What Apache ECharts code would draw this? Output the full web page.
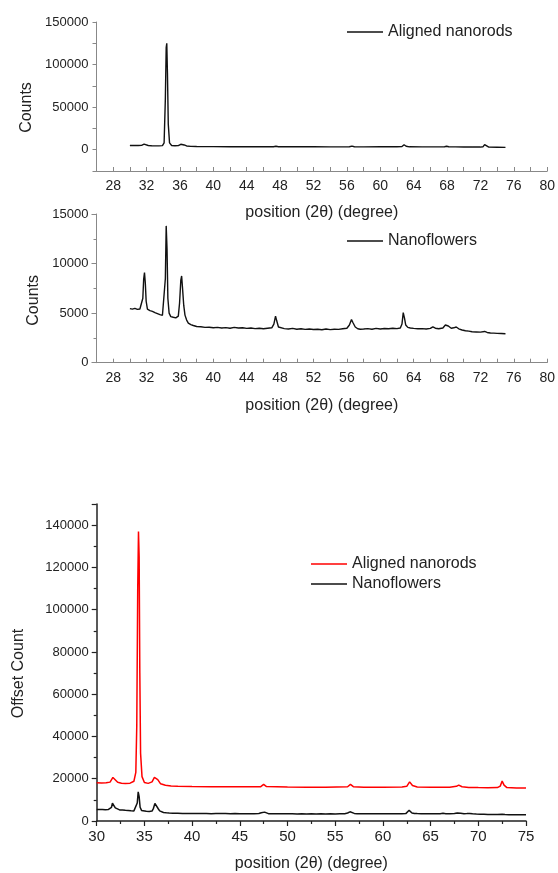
<!DOCTYPE html>
<html>
<head>
<meta charset="utf-8">
<script src="https://cdn.jsdelivr.net/npm/echarts@6/dist/echarts.min.js"></script>
<style>
  html, body { margin: 0; padding: 0; background: #fff; }
  #chart { width: 558px; height: 873px; }
</style>
</head>
<body>
<div id="chart"></div>
<script>
// [2θ, counts]
const rodsTop = [
  [30.0, 5000], [30.5, 4950], [31.0, 4900], [31.4, 5100], [31.7, 6500], [31.9, 6400],
  [32.2, 5000], [32.6, 4600], [33.0, 4500], [33.5, 4500], [33.9, 4800], [34.1, 8000],
  [34.25, 60000], [34.35, 120000], [34.42, 125000], [34.5, 90000], [34.6, 30000],
  [34.75, 8000], [35.0, 5000], [35.4, 4600], [35.8, 4800], [36.1, 6400], [36.3, 6800],
  [36.5, 5600], [36.8, 4400], [37.3, 3900], [38.0, 3700], [40.0, 3600], [42.0, 3550],
  [44.0, 3500], [46.0, 3450], [47.2, 3450], [47.5, 4000], [47.8, 3450], [50.0, 3400],
  [52.0, 3400], [54.0, 3380], [56.3, 3450], [56.6, 4200], [56.9, 3450], [58.0, 3380],
  [60.0, 3400], [62.0, 3400], [62.6, 3700], [62.85, 5800], [63.1, 4000], [63.5, 3400],
  [65.0, 3350], [67.0, 3300], [67.7, 3500], [67.95, 4100], [68.2, 3500], [69.0, 3300],
  [70.0, 3200], [71.0, 3150], [72.0, 3100], [72.3, 3400], [72.5, 6000], [72.7, 4200],
  [73.0, 3000], [74.0, 2900], [75.0, 2800]
]

const flowers = [
  [30.0, 5450], [30.3, 5400], [30.6, 5480], [30.9, 5380], [31.2, 5420], [31.4, 5500],
  [31.55, 6500], [31.65, 8400], [31.75, 9100], [31.85, 8000], [31.95, 6200], [32.1, 5400],
  [32.4, 5250], [32.7, 5180], [33.0, 5050], [33.3, 4950], [33.6, 4850], [33.9, 4780],
  [34.1, 4900], [34.25, 8500], [34.35, 13800], [34.45, 11500], [34.55, 6500], [34.7, 5000],
  [34.9, 4650], [35.2, 4580], [35.5, 4520], [35.8, 4700], [35.95, 6000], [36.1, 8300],
  [36.2, 8750], [36.3, 7600], [36.45, 5800], [36.6, 4800], [36.8, 4300], [37.0, 4000],
  [37.3, 3850], [37.6, 3750], [38.0, 3650], [38.5, 3620], [39.0, 3560], [39.5, 3580],
  [40.0, 3520], [40.5, 3560], [41.0, 3500], [41.5, 3540], [42.0, 3480], [42.5, 3560],
  [43.0, 3500], [43.5, 3520], [44.0, 3460], [44.5, 3500], [45.0, 3440], [45.5, 3480],
  [46.0, 3420], [46.5, 3470], [47.0, 3520], [47.25, 3900], [47.45, 4700], [47.6, 4200],
  [47.8, 3600], [48.0, 3480], [48.5, 3440], [49.0, 3400], [49.5, 3460], [50.0, 3380],
  [50.5, 3420], [51.0, 3360], [51.5, 3400], [52.0, 3350], [52.5, 3380], [53.0, 3330],
  [53.5, 3400], [54.0, 3340], [54.5, 3380], [55.0, 3360], [55.5, 3420], [56.0, 3480],
  [56.3, 3800], [56.55, 4350], [56.75, 4000], [57.0, 3600], [57.3, 3420], [57.6, 3380],
  [58.0, 3400], [58.5, 3440], [59.0, 3380], [59.5, 3460], [60.0, 3400], [60.5, 3450],
  [61.0, 3420], [61.5, 3480], [62.0, 3440], [62.4, 3500], [62.6, 3900], [62.75, 5050],
  [62.9, 4500], [63.05, 3800], [63.3, 3560], [63.6, 3500], [64.0, 3460], [64.5, 3420],
  [65.0, 3440], [65.5, 3400], [66.0, 3460], [66.3, 3620], [66.6, 3480], [67.0, 3420],
  [67.5, 3500], [67.8, 3800], [67.95, 3980], [68.15, 3700], [68.5, 3480], [68.8, 3520],
  [69.1, 3600], [69.4, 3420], [69.8, 3300], [70.2, 3220], [70.6, 3180], [71.0, 3120],
  [71.5, 3100], [72.0, 3080], [72.5, 3150], [72.8, 3050], [73.2, 3000], [73.6, 2980],
  [74.0, 2960], [74.5, 2940], [75.0, 2920]
]

// bottom panel, red curve (offset)
const rodsOffset = [
  [30.0, 18100], [30.5, 18000], [31.0, 18050], [31.4, 18400], [31.7, 20600], [31.9, 20100],
  [32.2, 18300], [32.6, 17900], [33.0, 17800], [33.5, 17900], [33.9, 18800], [34.1, 23000],
  [34.2, 45000], [34.3, 110000], [34.38, 137000], [34.45, 125000], [34.52, 70000],
  [34.6, 32000], [34.75, 21000], [35.0, 18200], [35.4, 17800], [35.8, 18500], [36.05, 20600],
  [36.2, 21400], [36.4, 19600], [36.7, 17600], [37.2, 16900], [37.8, 16600], [38.5, 16450],
  [40.0, 16300], [42.0, 16250], [44.0, 16200], [46.0, 16150], [47.2, 16250], [47.5, 17300],
  [47.8, 16300], [50.0, 16050], [52.0, 16000], [54.0, 16000], [56.3, 16200], [56.6, 17300],
  [56.9, 16250], [58.0, 16000], [60.0, 16000], [62.0, 16050], [62.5, 16400], [62.8, 18500],
  [63.1, 16800], [63.6, 16100], [65.0, 16000], [67.0, 15950], [67.7, 16400], [67.95, 17000],
  [68.3, 16200], [69.0, 15900], [70.0, 15800], [71.0, 15750], [72.0, 15800], [72.3, 16500],
  [72.5, 18900], [72.7, 17000], [73.0, 15800], [74.0, 15650], [75.0, 15600]
]

const legendNames = {
  rodsTop: 'Aligned nanorods',
  flowersTop: 'Nanoflowers',
  rodsBottom: 'Aligned nanorods',
  flowersBottom: 'Nanoflowers'
}

const font = 'Liberation Sans, Arial, sans-serif'
const xName = 'position (2θ) (degree)'

const chart = echarts.init(document.getElementById('chart'), null, { renderer: 'canvas' })

// top two panels share the same axis look
function topX(gridIndex, gap) {
  return {
    type: 'value',
    gridIndex: gridIndex,
    min: 26,
    max: 80,
    interval: 2,
    name: xName,
    nameLocation: 'middle',
    nameGap: gap,
    nameTextStyle: { fontSize: 16, color: '#222', fontFamily: font },
    axisLine: { show: true, onZero: false, lineStyle: { color: '#888', width: 1 } },
    axisTick: { show: true, inside: true, length: 4, lineStyle: { color: '#888' } },
    axisLabel: {
      fontSize: 14, color: '#222', fontFamily: font, margin: 8,
      formatter: v => ((v - 28) % 4 === 0 ? String(v) : '')
    },
    splitLine: { show: false }
  }
}

function legendAt(left, top, names) {
  return {
    left: left, top: top, orient: 'vertical', itemGap: 0, padding: 0,
    data: names,
    icon: 'rect', itemWidth: 36, itemHeight: 1.6,
    formatter: n => legendNames[n],
    textStyle: { fontSize: 16, color: '#222', fontFamily: font, lineHeight: 20 }
  }
}

chart.setOption({
  animation: false,
  backgroundColor: '#fff',
  textStyle: { fontFamily: font },
  grid: [
    { left: 96.5, width: 453.5, top: 22, height: 149 },
    { left: 96.5, width: 453.5, top: 214, height: 148.7 },
    { left: 96.7, width: 429.3, top: 504, height: 317 }
  ],
  legend: [
    legendAt(347, 22, ['rodsTop']),
    legendAt(347, 231, ['flowersTop']),
    legendAt(311, 554, ['rodsBottom', 'flowersBottom'])
  ],
  xAxis: [
    topX(0, 34),
    topX(1, 35),
    {
      type: 'value',
      gridIndex: 2,
      min: 30,
      max: 75,
      interval: 5,
      name: xName,
      nameLocation: 'middle',
      nameGap: 35,
      nameTextStyle: { fontSize: 16, color: '#222', fontFamily: font },
      axisLine: { show: true, onZero: false, lineStyle: { color: '#222', width: 1.5 } },
      axisTick: { show: true, inside: false, length: 5, lineStyle: { color: '#222', width: 1.2 } },
      minorTick: { show: true, splitNumber: 2, length: 3, lineStyle: { color: '#222', width: 1.2 } },
      axisLabel: { fontSize: 15, color: '#222', fontFamily: font, margin: 8, formatter: v => String(v) },
      splitLine: { show: false },
      minorSplitLine: { show: false }
    }
  ],
  yAxis: [
    {
      type: 'value',
      gridIndex: 0,
      min: -25000,
      max: 150000,
      interval: 25000,
      name: 'Counts',
      nameLocation: 'middle',
      nameGap: 62,
      nameTextStyle: { fontSize: 16, color: '#222', fontFamily: font, padding: [0, 22, 0, 0] },
      axisLine: { show: true, onZero: false, lineStyle: { color: '#888', width: 1 } },
      axisTick: { show: true, inside: false, length: 4, lineStyle: { color: '#888' } },
      axisLabel: {
        fontSize: 13, color: '#222', fontFamily: font, margin: 8,
        formatter: v => (v % 50000 === 0 ? String(v) : '')
      },
      splitLine: { show: false }
    },
    {
      type: 'value',
      gridIndex: 1,
      min: 0,
      max: 15000,
      interval: 5000,
      name: 'Counts',
      nameLocation: 'middle',
      nameGap: 53,
      nameTextStyle: { fontSize: 16, color: '#222', fontFamily: font, padding: [0, 24, 0, 0] },
      axisLine: { show: true, onZero: false, lineStyle: { color: '#888', width: 1 } },
      axisTick: { show: true, inside: false, length: 5, lineStyle: { color: '#888' } },
      minorTick: { show: true, splitNumber: 2, length: 3, lineStyle: { color: '#888' } },
      axisLabel: { fontSize: 13, color: '#222', fontFamily: font, margin: 8, formatter: v => String(v) },
      splitLine: { show: false },
      minorSplitLine: { show: false }
    },
    {
      type: 'value',
      gridIndex: 2,
      min: 0,
      max: 150000,
      interval: 20000,
      name: 'Offset Count',
      nameLocation: 'middle',
      nameGap: 70,
      nameTextStyle: { fontSize: 16, color: '#222', fontFamily: font, padding: [0, 22, 0, 0] },
      axisLine: { show: true, onZero: false, lineStyle: { color: '#222', width: 1.5 } },
      axisTick: { show: true, inside: false, length: 5, lineStyle: { color: '#222', width: 1.2 } },
      minorTick: { show: true, splitNumber: 2, length: 3, lineStyle: { color: '#222', width: 1.2 } },
      axisLabel: {
        fontSize: 13, color: '#222', fontFamily: font, margin: 8, showMaxLabel: false,
        formatter: v => String(v)
      },
      splitLine: { show: false },
      minorSplitLine: { show: false }
    }
  ],
  series: [
    {
      name: 'rodsTop', type: 'line', xAxisIndex: 0, yAxisIndex: 0,
      data: rodsTop, symbol: 'none',
      lineStyle: { color: '#111', width: 1.4 }, itemStyle: { color: '#111' }
    },
    {
      name: 'flowersTop', type: 'line', xAxisIndex: 1, yAxisIndex: 1,
      data: flowers, symbol: 'none',
      lineStyle: { color: '#111', width: 1.4 }, itemStyle: { color: '#111' }
    },
    {
      name: 'rodsBottom', type: 'line', xAxisIndex: 2, yAxisIndex: 2,
      data: rodsOffset, symbol: 'none',
      lineStyle: { color: '#ff0000', width: 1.5 }, itemStyle: { color: '#ff0000' }
    },
    {
      name: 'flowersBottom', type: 'line', xAxisIndex: 2, yAxisIndex: 2,
      data: flowers, symbol: 'none',
      lineStyle: { color: '#111', width: 1.5 }, itemStyle: { color: '#111' }
    }
  ]
})
</script>
</body>
</html>
